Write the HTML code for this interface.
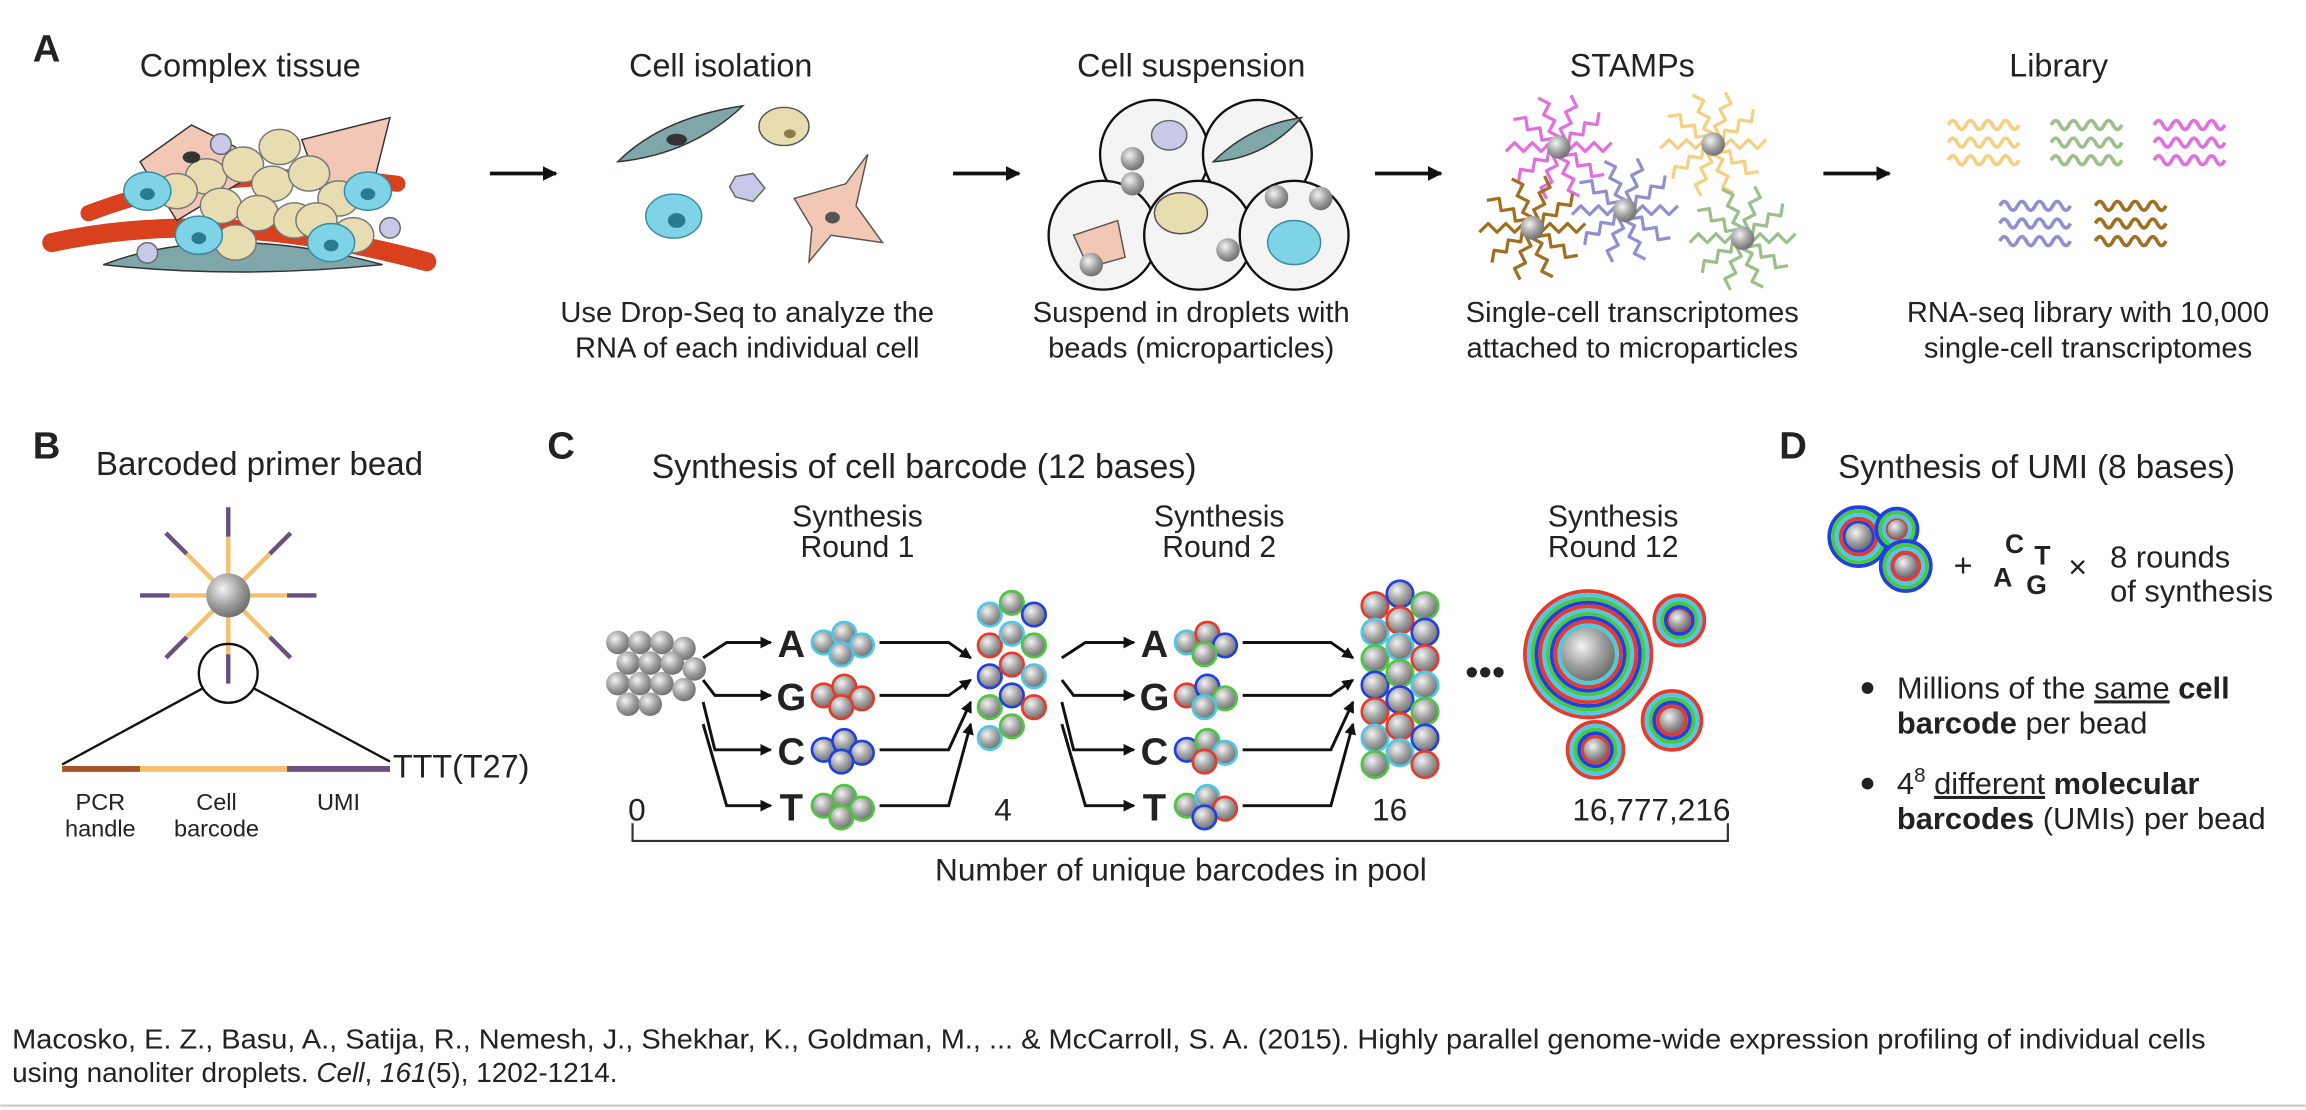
<!DOCTYPE html>
<html><head><meta charset="utf-8"><style>
html,body{margin:0;padding:0;background:#fff}
svg{display:block}
text{font-family:"Liberation Sans",Arial,sans-serif;fill:#222}
</style></head><body>
<svg id="fig" width="2306" height="1110" viewBox="0 0 1568 755" xmlns="http://www.w3.org/2000/svg">
<defs>
<radialGradient id="bead" cx="0.38" cy="0.35" r="0.7"><stop offset="0" stop-color="#f4f4f4"/><stop offset="0.55" stop-color="#a0a0a0"/><stop offset="1" stop-color="#6a6a6a"/></radialGradient>
<marker id="ah" markerWidth="8" markerHeight="8" refX="7" refY="4" orient="auto" markerUnits="userSpaceOnUse"><path d="M0,0 L8,4 L0,8 z" fill="#111"/></marker>
<marker id="ahs" markerWidth="10" markerHeight="10" refX="9" refY="5" orient="auto" markerUnits="userSpaceOnUse"><path d="M0,0 L10,5 L0,10 z" fill="#111"/></marker>
</defs>
<g id="panelA">
<text x="22" y="42" font-size="26" font-weight="bold">A</text>
<text x="170" y="52" font-size="22" text-anchor="middle">Complex tissue</text>
<text x="490" y="52" font-size="22" text-anchor="middle">Cell isolation</text>
<text x="810" y="52" font-size="22" text-anchor="middle">Cell suspension</text>
<text x="1110" y="52" font-size="22" text-anchor="middle">STAMPs</text>
<text x="1400" y="52" font-size="22" text-anchor="middle">Library</text>
<g stroke="#111" stroke-width="2.5">
<line x1="333" y1="118" x2="378" y2="118" marker-end="url(#ahs)"/>
<line x1="648" y1="118" x2="693" y2="118" marker-end="url(#ahs)"/>
<line x1="935" y1="118" x2="980" y2="118" marker-end="url(#ahs)"/>
<line x1="1240" y1="118" x2="1285" y2="118" marker-end="url(#ahs)"/>
</g>
<g font-size="19.8" text-anchor="middle">
<text x="508" y="219">Use Drop-Seq to analyze the</text><text x="508" y="243">RNA of each individual cell</text>
<text x="810" y="219">Suspend in droplets with</text><text x="810" y="243">beads (microparticles)</text>
<text x="1110" y="219">Single-cell transcriptomes</text><text x="1110" y="243">attached to microparticles</text>
<text x="1420" y="219">RNA-seq library with 10,000</text><text x="1420" y="243">single-cell transcriptomes</text>
</g>
<g id="tissue">
<path d="M35,165 Q150,140 290,178" stroke="#d8401e" stroke-width="13" fill="none" stroke-linecap="round"/>
<path d="M60,145 Q150,110 270,125" stroke="#d8401e" stroke-width="11" fill="none" stroke-linecap="round"/>
<path d="M95,110 L130,85 L160,100 L170,120 L120,150 Z" fill="#f2c7b5" stroke="#333"/>
<path d="M205,95 L265,80 L255,120 L225,150 Z" fill="#f2c7b5" stroke="#333"/>
<path d="M70,180 Q150,150 260,180 Q160,190 70,180Z" fill="#7fa6a8" stroke="#333"/>
</g>
<g>
<path d="M420,110 Q450,80 505,72 Q470,105 420,110Z" fill="#7fa6a8" stroke="#333"/><ellipse cx="460" cy="95" rx="7" ry="4" fill="#333"/>
<ellipse cx="533" cy="86" rx="17" ry="13" fill="#e8ddb0" stroke="#555"/><ellipse cx="537" cy="91" rx="4" ry="3" fill="#8a7a50"/>
<ellipse cx="458" cy="147" rx="19" ry="15" fill="#7ed4e6" stroke="#3a8aa0"/><ellipse cx="460" cy="150" rx="6" ry="5" fill="#2a7a90"/>
<path d="M500,120 L512,118 L520,128 L512,137 L500,134 L496,127Z" fill="#c8c8e8" stroke="#666"/>
<path d="M540,135 L575,125 L590,105 L582,140 L600,165 L565,160 L550,178 L552,155Z" fill="#f2c7b5" stroke="#555"/><ellipse cx="566" cy="148" rx="5" ry="4" fill="#555"/>
</g>
<g fill="#f4f4f4" stroke="#111" stroke-width="1.6">
<circle cx="785" cy="105" r="37"/><circle cx="855" cy="105" r="37"/><circle cx="750" cy="160" r="37"/><circle cx="815" cy="160" r="37"/><circle cx="880" cy="160" r="37"/>
</g>
<g id="susp">
<ellipse cx="795" cy="92" rx="12" ry="10" fill="#c8c8e8" stroke="#666"/>
<path d="M825,110 Q850,85 885,80 Q860,108 825,110Z" fill="#7fa6a8" stroke="#333"/>
<ellipse cx="803" cy="145" rx="18" ry="14" fill="#e8ddb0" stroke="#555"/>
<path d="M730,160 L760,150 L765,175 L740,182Z" fill="#f2c7b5" stroke="#555"/>
<ellipse cx="880" cy="165" rx="18" ry="15" fill="#7ed4e6" stroke="#3a8aa0"/>
</g>
<g id="stamps"></g>
<g id="library"></g>
</g>
<g id="panelB">
<text x="22" y="312" font-size="26" font-weight="bold">B</text>
<text x="65" y="323" font-size="22.5">Barcoded primer bead</text>
<g id="spokes"></g>
<circle cx="155" cy="405" r="15" fill="url(#bead)"/>
<circle cx="155" cy="458" r="20" fill="none" stroke="#111" stroke-width="1.6"/>
<line x1="138" y1="468" x2="42" y2="520" stroke="#111" stroke-width="1.6"/>
<line x1="172" y1="468" x2="265" y2="518" stroke="#111" stroke-width="1.6"/>
<g stroke-width="4">
<line x1="42" y1="523" x2="95" y2="523" stroke="#a8522a"/>
<line x1="95" y1="523" x2="195" y2="523" stroke="#f5c070"/>
<line x1="195" y1="523" x2="265" y2="523" stroke="#6a5080"/>
</g>
<text x="267" y="529" font-size="22">TTT(T27)</text>
<g font-size="16" text-anchor="middle">
<text x="68" y="551">PCR</text><text x="68" y="569">handle</text>
<text x="147" y="551">Cell</text><text x="147" y="569">barcode</text>
<text x="230" y="551">UMI</text>
</g>
</g>
<g id="panelC">
<text x="372" y="312" font-size="26" font-weight="bold">C</text>
<text x="443" y="325" font-size="23">Synthesis of cell barcode (12 bases)</text>
<g font-size="20.5" text-anchor="middle" fill="#333">
<text x="583" y="358">Synthesis</text><text x="583" y="379">Round 1</text>
<text x="829" y="358">Synthesis</text><text x="829" y="379">Round 2</text>
<text x="1097" y="358">Synthesis</text><text x="1097" y="379">Round 12</text>
</g>
<g id="cmarks"></g>
<text x="1010" y="466" font-size="26" text-anchor="middle">•••</text>
<g id="counts" font-size="21.5" text-anchor="middle"></g>
<path d="M430,560 L430,572 L1175,572 L1175,560" fill="none" stroke="#333" stroke-width="1.5"/>
<text x="803" y="599" font-size="21.5" text-anchor="middle" fill="#333">Number of unique barcodes in pool</text>
</g>
<g id="panelD">
<text x="1210" y="312" font-size="26" font-weight="bold">D</text>
<text x="1250" y="325" font-size="22.5">Synthesis of UMI (8 bases)</text>
<g id="dbeads"></g>
<text x="1335" y="392" font-size="22" text-anchor="middle">+</text>
<g font-size="18" font-weight="bold" text-anchor="middle">
<text x="1370" y="376" fill="#2040e0">C</text><text x="1389" y="384" fill="#4cc840">T</text>
<text x="1362" y="399" fill="#4fc8e8">A</text><text x="1385" y="404" fill="#e63a2a">G</text>
</g>
<text x="1413" y="393" font-size="22" text-anchor="middle">×</text>
<text x="1435" y="386" font-size="21">8 rounds</text><text x="1435" y="409" font-size="21">of synthesis</text>
<g font-size="21">
<circle cx="1270" cy="468" r="4" fill="#222"/>
<text x="1290" y="475">Millions of the <tspan style="text-decoration:underline">same</tspan> <tspan font-weight="bold">cell</tspan></text>
<text x="1290" y="499"><tspan font-weight="bold">barcode</tspan> per bead</text>
<circle cx="1270" cy="533" r="4" fill="#222"/>
<text x="1290" y="540">4<tspan dy="-8" font-size="14">8</tspan><tspan dy="8"> </tspan><tspan style="text-decoration:underline">different</tspan> <tspan font-weight="bold">molecular</tspan></text>
<text x="1290" y="564"><tspan font-weight="bold">barcodes</tspan> (UMIs) per bead</text>
</g>
</g>
<g font-size="19">
<text x="8" y="713" textLength="1492" lengthAdjust="spacingAndGlyphs">Macosko, E. Z., Basu, A., Satija, R., Nemesh, J., Shekhar, K., Goldman, M., ... &amp; McCarroll, S. A. (2015). Highly parallel genome-wide expression profiling of individual cells</text>
<text x="8" y="736">using nanoliter droplets. <tspan font-style="italic">Cell</tspan>, <tspan font-style="italic">161</tspan>(5), 1202-1214.</text>
</g>
<line x1="0" y1="752" x2="1568" y2="752" stroke="#ccc" stroke-width="1.5"/>
</svg>
<script>
const NS='http://www.w3.org/2000/svg';
function mk(p,tag,a){const e=document.createElementNS(NS,tag);for(const k in a)e.setAttribute(k,a[k]);p.appendChild(e);return e;}
const BASES=['A','G','C','T'];
const BASECOL=['#4fc8e8','#e63a2a','#2040e0','#4cc840'];
const COUNT_LABELS=['0','4','16','16,777,216'];
const COUNT_X=[433,682,945,1123];
function bead(p,x,y,r,ring){const c=mk(p,'circle',{cx:x,cy:y,r:r,fill:'url(#bead)'});if(ring){c.setAttribute('stroke',ring);c.setAttribute('stroke-width',1.8);}return c;}
const T=document.getElementById('tissue');
[[140,120],[165,112],[185,125],[210,118],[230,135],[150,140],[175,145],[200,150],[120,130],[215,150],[190,100],[240,160],[160,165]].forEach(p=>{mk(T,'ellipse',{cx:p[0],cy:p[1],rx:14,ry:12,fill:'#e8ddb0',stroke:'#777'});});
[[100,130],[135,160],[250,130],[225,165]].forEach(p=>{mk(T,'ellipse',{cx:p[0],cy:p[1],rx:16,ry:13,fill:'#7ed4e6',stroke:'#3a8aa0'});mk(T,'ellipse',{cx:p[0],cy:p[1]+2,rx:5,ry:4,fill:'#2a7a90'});});
[[150,98],[100,172],[265,155]].forEach(p=>mk(T,'circle',{cx:p[0],cy:p[1],r:7,fill:'#c8c8e8',stroke:'#666'}));
mk(T,'ellipse',{cx:130,cy:107,rx:6,ry:4,fill:'#333'});
const S=document.getElementById('susp');
[[770,108],[770,125],[835,170],[742,180],[898,135],[868,134]].forEach(p=>bead(S,p[0],p[1],8));
const ST=document.getElementById('stamps');
[[1060,100,'#e070e0'],[1165,98,'#f5d080'],[1042,155,'#a07020'],[1105,143,'#9090d0'],[1185,162,'#9bc08a']].forEach(s=>{
 for(let i=0;i<10;i++){const a=i*Math.PI/5;let d='M'+s[0]+','+s[1];for(let k=1;k<=6;k++){const rr=k*6,w=(k%2?3:-3);d+=' L'+(s[0]+rr*Math.cos(a)-w*Math.sin(a)).toFixed(1)+','+(s[1]+rr*Math.sin(a)+w*Math.cos(a)).toFixed(1);}
 mk(ST,'path',{d:d,stroke:s[2],'stroke-width':2.2,fill:'none','stroke-linejoin':'round'});}
 bead(ST,s[0],s[1],8);});
const L=document.getElementById('library');
[[1325,85,'#f5d080'],[1395,85,'#9bc08a'],[1465,85,'#e070e0'],[1360,140,'#9090d0'],[1425,140,'#a07020']].forEach(s=>{
 for(let j=0;j<3;j++){let d='M'+s[0]+','+(s[1]+j*12);for(let k=1;k<=8;k++)d+=' Q'+(s[0]+k*6-3)+','+(s[1]+j*12+(k%2?-6:6))+' '+(s[0]+k*6)+','+(s[1]+j*12);mk(L,'path',{d:d,stroke:s[2],'stroke-width':2.5,fill:'none'});}});
const SP=document.getElementById('spokes');
for(let i=0;i<8;i++){const a=i*Math.PI/4,c=Math.cos(a),s=Math.sin(a);
 [[0,14,'#a8522a'],[14,40,'#f5c070'],[40,60,'#6a5080']].forEach(g=>mk(SP,'line',{x1:155+g[0]*c,y1:405+g[0]*s,x2:155+g[1]*c,y2:405+g[1]*s,stroke:g[2],'stroke-width':3}));}
const C=document.getElementById('cmarks');


const rowY=[437,473,510,548];
for(let i=0;i<14;i++)bead(C,420+(i%4)*15+((i>>2)%2?7:0),437+Math.floor(i/4)*14+(i%4==3?4:0),8);
function round(lx,sx,ex,cx){
 rowY.forEach((y,i)=>{
  const t=mk(C,'text',{x:lx,y:y+10,'font-size':26,'font-weight':'bold','text-anchor':'middle',fill:BASECOL[i]});t.textContent=BASES[i];
  
  
  mk(C,'path',{d:`M${sx},${470+(i-1.5)*15} L${sx+8+(i==1||i==2?0:8)},${y} L${lx-14},${y}`,fill:'none',stroke:'#111','stroke-width':2,'marker-end':'url(#ah)'});
  [[0,0],[14,-6],[26,2],[12,8]].forEach((o,k)=>bead(C,lx+22+o[0],y+o[1],8,cx?BASECOL[(i+k)%4]:BASECOL[i]));
  mk(C,'path',{d:`M${lx+60},${y} L${ex-20},${y} L${ex-5},${470+(i-1.5)*15}`,fill:'none',stroke:'#111','stroke-width':2,'marker-end':'url(#ah)'});
 });}
round(538,478,665,false);
round(785,722,925,true);
for(let i=0;i<14;i++)bead(C,673+(i%3)*15,418+Math.floor(i/3)*21+(i%3==1?-8:0),8,BASECOL[(i*3)%4]);
for(let i=0;i<21;i++)bead(C,935+(i%3)*17,412+Math.floor(i/3)*18+(i%3==1?-8:0),9,BASECOL[(i*5+1)%4]);
function rings(x,y,r){const n=Math.floor(r/3);for(let k=0;k<n;k++)mk(C,'circle',{cx:x,cy:y,r:r-k*2.6,fill:'none',stroke:BASECOL[(k*3+1)%4],'stroke-width':2.6});bead(C,x,y,r*0.42);}
rings(1080,445,43);rings(1142,422,17);rings(1137,490,20);rings(1085,510,19);
const CN=document.getElementById('counts');
COUNT_LABELS.forEach((s,i)=>{const t=mk(CN,'text',{x:COUNT_X[i],y:558});t.textContent=s;
 
 });
const DB=document.getElementById('dbeads');


[[1264,365,20],[1290,360,14],[1296,385,17]].forEach(b=>{const n=Math.floor(b[2]/3);for(let k=0;k<n;k++)mk(DB,'circle',{cx:b[0],cy:b[1],r:b[2]-k*2.6,fill:'none',stroke:BASECOL[(k+2)%4],'stroke-width':2.6});bead(DB,b[0],b[1],b[2]*0.45);});
</script>
</body></html>
